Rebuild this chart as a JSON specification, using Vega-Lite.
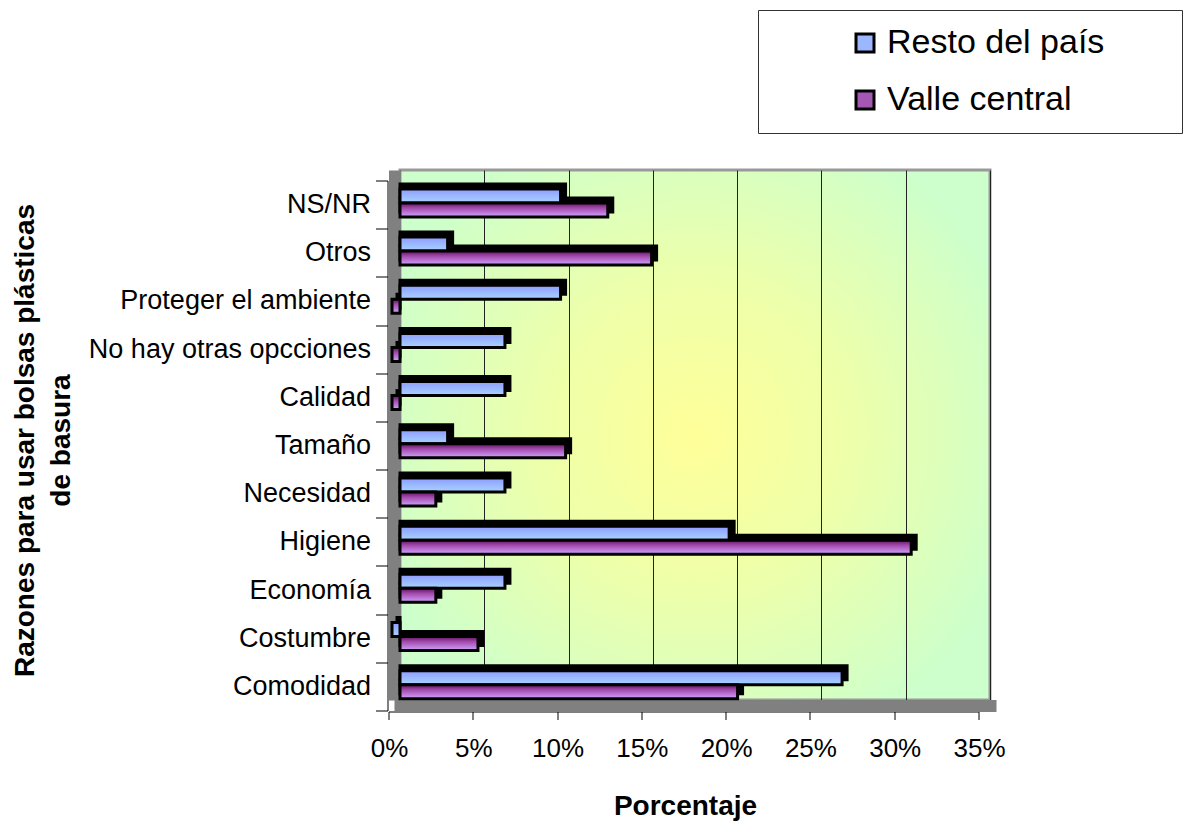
{
  "$schema": "https://vega.github.io/schema/vega-lite/v6.json",
  "width": 590,
  "height": 530,
  "autosize": {"type": "none"},
  "padding": {"left": 400, "top": 170, "right": 195, "bottom": 125},
  "background": "white",
  "view": {
    "fill": {
      "gradient": "radial",
      "x1": 0.5, "y1": 0.5, "r1": 0,
      "x2": 0.5, "y2": 0.5, "r2": 0.58,
      "stops": [
        {"offset": 0, "color": "#FFFF99"},
        {"offset": 0.45, "color": "#EEFFAA"},
        {"offset": 1, "color": "#CCFFCC"}
      ]
    },
    "stroke": "#999999",
    "strokeWidth": 3
  },
  "config": {
    "font": "Liberation Sans",
    "axis": {"labelColor": "black", "titleColor": "black", "labelFont": "Liberation Sans", "titleFont": "Liberation Sans"}
  },
  "data": {
    "values": [
      {"razon": "NS/NR", "serie": "Resto del país", "pct": 10.0},
      {"razon": "Otros", "serie": "Resto del país", "pct": 3.3},
      {"razon": "Proteger el ambiente", "serie": "Resto del país", "pct": 10.0},
      {"razon": "No hay otras opcciones", "serie": "Resto del país", "pct": 6.7},
      {"razon": "Calidad", "serie": "Resto del país", "pct": 6.7},
      {"razon": "Tamaño", "serie": "Resto del país", "pct": 3.3},
      {"razon": "Necesidad", "serie": "Resto del país", "pct": 6.7},
      {"razon": "Higiene", "serie": "Resto del país", "pct": 20.0},
      {"razon": "Economía", "serie": "Resto del país", "pct": 6.7},
      {"razon": "Costumbre", "serie": "Resto del país", "pct": 0},
      {"razon": "Comodidad", "serie": "Resto del país", "pct": 26.7},
      {"razon": "NS/NR", "serie": "Valle central", "pct": 12.8},
      {"razon": "Otros", "serie": "Valle central", "pct": 15.4},
      {"razon": "Proteger el ambiente", "serie": "Valle central", "pct": 0},
      {"razon": "No hay otras opcciones", "serie": "Valle central", "pct": 0},
      {"razon": "Calidad", "serie": "Valle central", "pct": 0},
      {"razon": "Tamaño", "serie": "Valle central", "pct": 10.3},
      {"razon": "Necesidad", "serie": "Valle central", "pct": 2.6},
      {"razon": "Higiene", "serie": "Valle central", "pct": 30.8},
      {"razon": "Economía", "serie": "Valle central", "pct": 2.6},
      {"razon": "Costumbre", "serie": "Valle central", "pct": 5.1},
      {"razon": "Comodidad", "serie": "Valle central", "pct": 20.5}
    ]
  },
  "layer": [
    {
      "mark": {"type": "bar", "opacity": 0, "size": 14},
      "encoding": {
        "y": {
          "field": "razon", "type": "nominal",
          "scale": {"domain": ["NS/NR", "Otros", "Proteger el ambiente", "No hay otras opcciones", "Calidad", "Tamaño", "Necesidad", "Higiene", "Economía", "Costumbre", "Comodidad"], "paddingInner": 0, "paddingOuter": 0},
          "axis": {"orient": "left", "offset": 23, "translate": 11, "zindex": 0, "grid": false, "labels": false, "ticks": true, "tickSize": 12, "tickColor": "black", "tickWidth": 1, "tickBand": "extent", "domain": true, "domainColor": "black", "domainWidth": 1, "title": null}
        },
        "x": {
          "field": "pct", "type": "quantitative", "stack": null,
          "scale": {"domain": [0, 35], "nice": false, "zero": true},
          "axis": {"orient": "bottom", "offset": 23, "translate": -11, "zindex": 0, "values": [0, 5, 10, 15, 20, 25, 30, 35], "grid": false, "labels": false, "ticks": true, "tickSize": 8, "tickColor": "black", "tickWidth": 1, "domain": true, "domainColor": "black", "domainWidth": 1, "title": null}
        },
        "color": {
          "field": "serie", "type": "nominal",
          "scale": {"domain": ["Resto del país", "Valle central"], "range": ["#9CB6FF", "#A458B4"]},
          "legend": {
            "orient": "none", "legendX": 358, "legendY": -160, "direction": "vertical",
            "title": " ", "titleOrient": "right", "titlePadding": 62, "titleFontSize": 10,
            "padding": 16, "strokeColor": "#333333", "fillColor": "white",
            "symbolType": "square", "symbolSize": 324, "symbolStrokeColor": "black", "symbolStrokeWidth": 3, "symbolOpacity": 1,
            "symbolOffset": 74, "labelOffset": 5, "labelFontSize": 34, "labelFont": "Liberation Sans", "labelColor": "black", "rowPadding": 23, "labelLimit": 400
          }
        }
      }
    },
    {
      "transform": [{"filter": "datum.serie === 'Resto del país'"}],
      "mark": {"type": "bar", "fill": "black", "stroke": "black", "strokeWidth": 3, "size": 14, "xOffset": -3, "x2Offset": -3, "yOffset": -3.2},
      "encoding": {
        "y": {"field": "razon", "type": "nominal", "axis": null},
        "x": {"field": "pct", "type": "quantitative", "stack": null, "axis": null}
      }
    },
    {
      "transform": [{"filter": "datum.serie === 'Valle central'"}],
      "mark": {"type": "bar", "fill": "black", "stroke": "black", "strokeWidth": 3, "size": 14, "xOffset": -3, "x2Offset": -3, "yOffset": 10.8},
      "encoding": {
        "y": {"field": "razon", "type": "nominal", "axis": null},
        "x": {"field": "pct", "type": "quantitative", "stack": null, "axis": null}
      }
    },
    {
      "transform": [{"filter": "datum.serie === 'Resto del país'"}],
      "mark": {
        "type": "bar", "stroke": "black", "strokeWidth": 3, "size": 14, "xOffset": -8, "x2Offset": -8, "yOffset": 1.8,
        "fill": {"gradient": "linear", "x1": 0, "y1": 0, "x2": 0, "y2": 1, "stops": [{"offset": 0, "color": "#8E9CFF"}, {"offset": 1, "color": "#A8D4FF"}]}
      },
      "encoding": {
        "y": {
          "field": "razon", "type": "nominal",
          "axis": {"orient": "left", "offset": 5.5, "zindex": 0, "ticks": false, "grid": false, "domain": true, "domainColor": "#808080", "domainWidth": 12, "domainCap": "butt", "labels": true, "labelFontSize": 27, "labelPadding": 24, "labelOffset": 11, "labelLimit": 400,
            "title": ["Razones para usar bolsas plásticas", "de basura"], "titleFontSize": 28, "titleFontWeight": "bold", "titleAngle": 270, "titleAlign": "center", "titleBaseline": "alphabetic", "titleLineHeight": 36, "titleX": -361, "titleY": 270}
        },
        "x": {
          "field": "pct", "type": "quantitative", "stack": null,
          "axis": {"orient": "bottom", "offset": 5.5, "zindex": 0, "values": [0, 5, 10, 15, 20, 25, 30, 35], "ticks": false, "grid": true, "gridColor": "#222222", "gridWidth": 1, "gridOpacity": 1, "domain": true, "domainColor": "#808080", "domainWidth": 12, "domainCap": "square", "labels": true, "labelFontSize": 26, "labelPadding": 30, "labelOffset": -11, "labelFlush": false, "labelOverlap": false, "labelExpr": "datum.value + '%'",
            "title": "Porcentaje", "titleFontSize": 28, "titleFontWeight": "bold", "titleX": 285, "titleY": 109, "titleBaseline": "alphabetic", "titleAlign": "center"}
        }
      }
    },
    {
      "transform": [{"filter": "datum.serie === 'Valle central'"}],
      "mark": {
        "type": "bar", "stroke": "black", "strokeWidth": 3, "size": 14, "xOffset": -8, "x2Offset": -8, "yOffset": 15.8,
        "fill": {"gradient": "linear", "x1": 0, "y1": 0, "x2": 0, "y2": 1, "stops": [{"offset": 0, "color": "#5E105E"}, {"offset": 0.35, "color": "#A048AA"}, {"offset": 1, "color": "#D4A4FF"}]}
      },
      "encoding": {
        "y": {"field": "razon", "type": "nominal", "axis": null},
        "x": {"field": "pct", "type": "quantitative", "stack": null, "axis": null}
      }
    }
  ],
  "resolve": {"axis": {"x": "independent", "y": "independent"}}
}
